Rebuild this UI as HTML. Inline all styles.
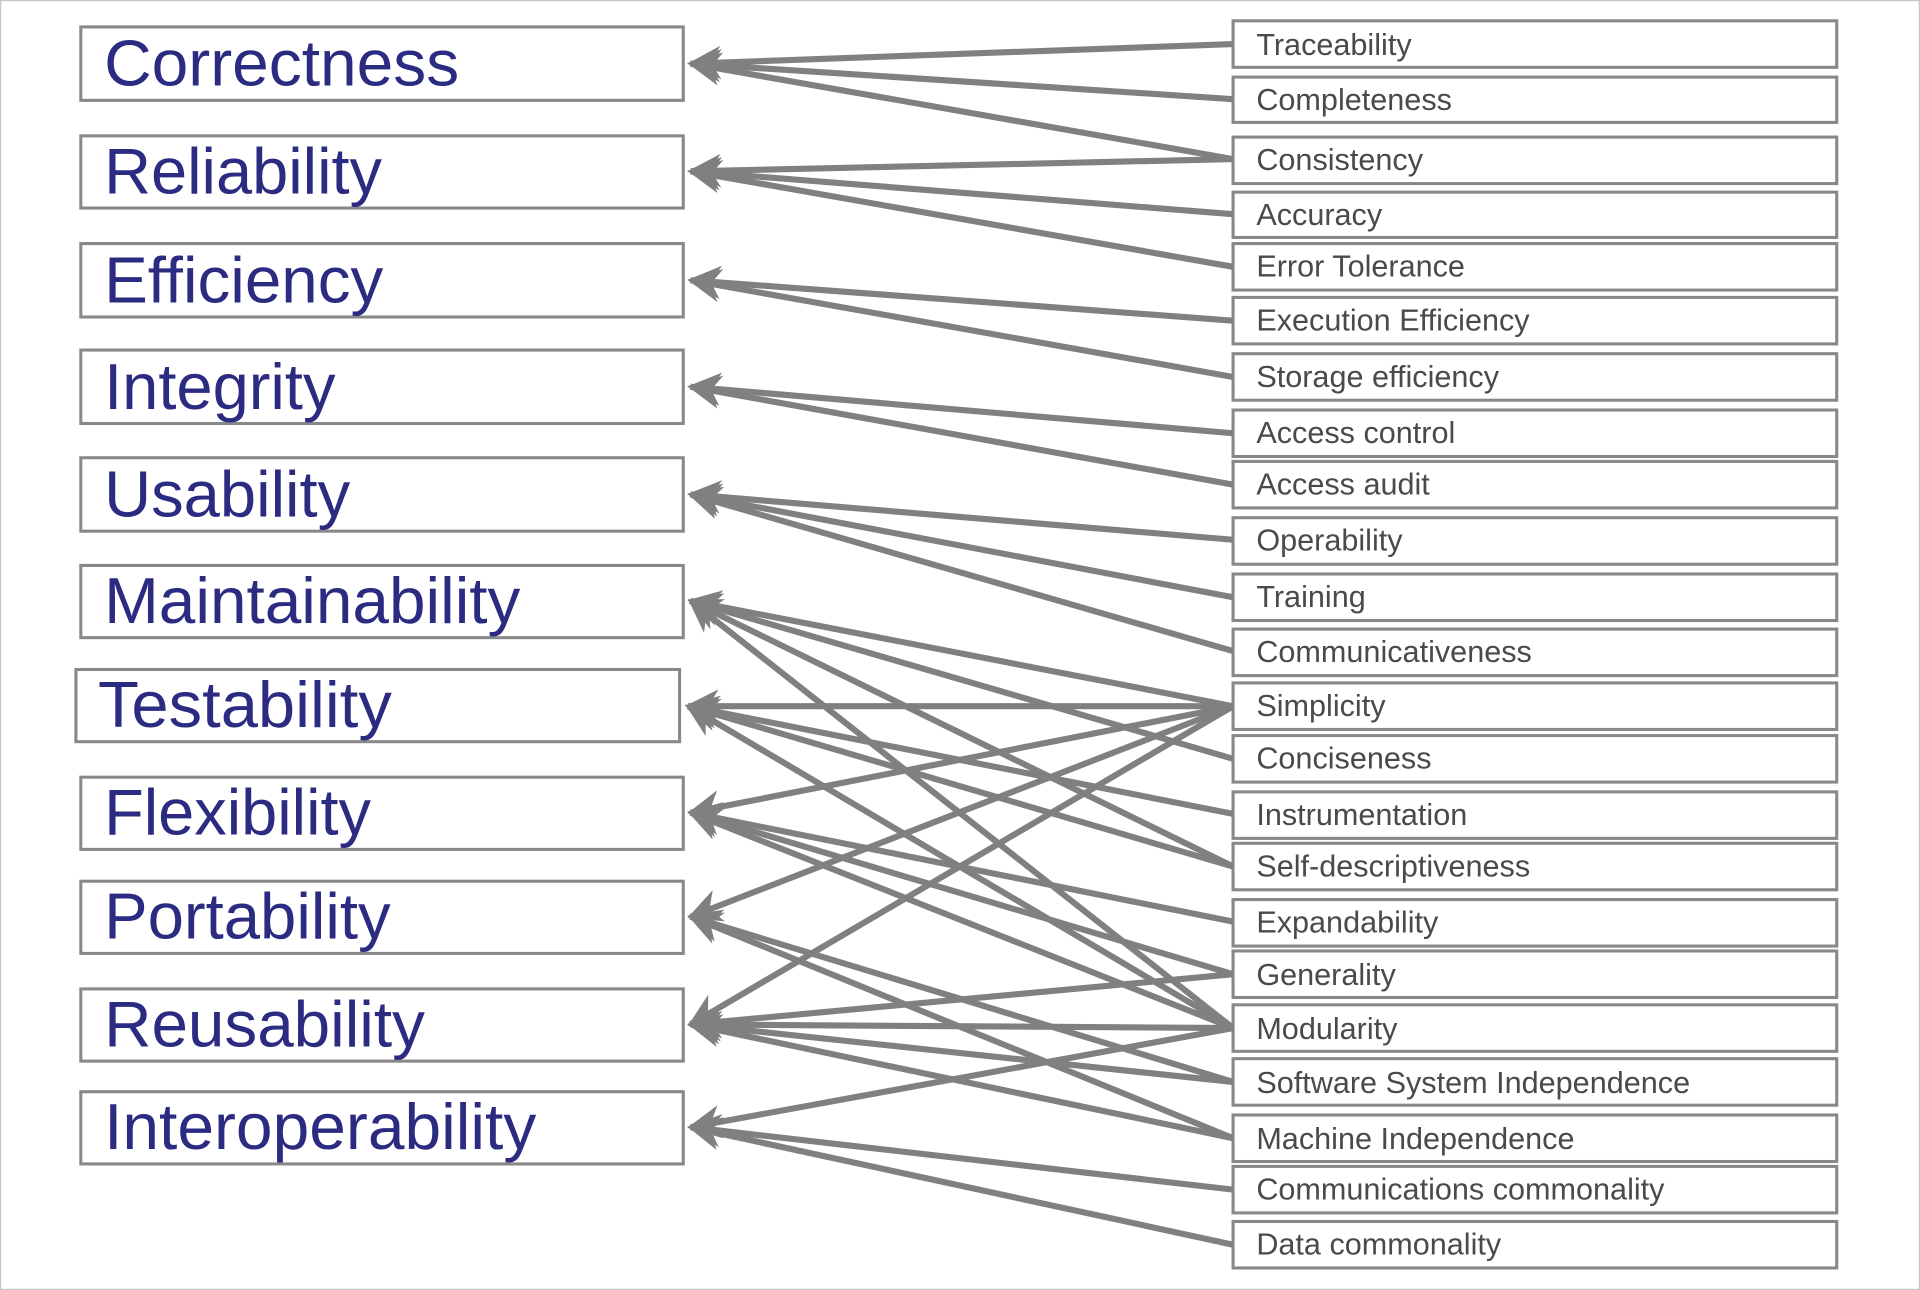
<!DOCTYPE html>
<html><head><meta charset="utf-8"><style>
html,body{margin:0;padding:0;background:#fff;}
svg{display:block;}
</style></head><body>
<svg width="1920" height="1290" viewBox="0 0 1568 1054" preserveAspectRatio="none" xmlns="http://www.w3.org/2000/svg">
<defs>
<marker id="a" viewBox="0 0 10 10" refX="9" refY="5" markerWidth="5.5" markerHeight="5.5" orient="auto" markerUnits="strokeWidth">
<path d="M10,5 L0,0 L3,5 L0,10 Z" fill="#808080"/>
</marker>
</defs>
<rect x="0.5" y="0.5" width="1567" height="1053" fill="#fff" stroke="#c8c8c8"/>
<g fill="#fff" stroke="#888" stroke-width="2.5">
<rect x="66" y="22" width="492" height="60"/>
<rect x="66" y="111" width="492" height="59"/>
<rect x="66" y="199" width="492" height="60"/>
<rect x="66" y="286" width="492" height="60"/>
<rect x="66" y="374" width="492" height="60"/>
<rect x="66" y="462" width="492" height="59"/>
<rect x="62" y="547" width="493" height="59"/>
<rect x="66" y="635" width="492" height="59"/>
<rect x="66" y="720" width="492" height="59"/>
<rect x="66" y="808" width="492" height="59"/>
<rect x="66" y="892" width="492" height="59"/>
</g>
<g fill="#2b2b82" font-family="Liberation Sans, sans-serif" font-size="53">
<text x="85" y="70" textLength="290" lengthAdjust="spacingAndGlyphs">Correctness</text>
<text x="85" y="158" textLength="227" lengthAdjust="spacingAndGlyphs">Reliability</text>
<text x="85" y="247" textLength="228" lengthAdjust="spacingAndGlyphs">Efficiency</text>
<text x="85" y="334" textLength="189" lengthAdjust="spacingAndGlyphs">Integrity</text>
<text x="85" y="422" textLength="201" lengthAdjust="spacingAndGlyphs">Usability</text>
<text x="85" y="509" textLength="340" lengthAdjust="spacingAndGlyphs">Maintainability</text>
<text x="80" y="594" textLength="240" lengthAdjust="spacingAndGlyphs">Testability</text>
<text x="85" y="682" textLength="218" lengthAdjust="spacingAndGlyphs">Flexibility</text>
<text x="85" y="767" textLength="234" lengthAdjust="spacingAndGlyphs">Portability</text>
<text x="85" y="855" textLength="262" lengthAdjust="spacingAndGlyphs">Reusability</text>
<text x="85" y="939" textLength="353" lengthAdjust="spacingAndGlyphs">Interoperability</text>
</g>
<g fill="#fff" stroke="#888" stroke-width="2.5">
<rect x="1007" y="17" width="493" height="38"/>
<rect x="1007" y="63" width="493" height="37"/>
<rect x="1007" y="112" width="493" height="38"/>
<rect x="1007" y="157" width="493" height="37"/>
<rect x="1007" y="199" width="493" height="38"/>
<rect x="1007" y="243" width="493" height="38"/>
<rect x="1007" y="289" width="493" height="38"/>
<rect x="1007" y="335" width="493" height="38"/>
<rect x="1007" y="377" width="493" height="38"/>
<rect x="1007" y="423" width="493" height="38"/>
<rect x="1007" y="469" width="493" height="38"/>
<rect x="1007" y="514" width="493" height="38"/>
<rect x="1007" y="558" width="493" height="38"/>
<rect x="1007" y="601" width="493" height="38"/>
<rect x="1007" y="647" width="493" height="38"/>
<rect x="1007" y="689" width="493" height="38"/>
<rect x="1007" y="735" width="493" height="38"/>
<rect x="1007" y="777" width="493" height="38"/>
<rect x="1007" y="821" width="493" height="38"/>
<rect x="1007" y="865" width="493" height="38"/>
<rect x="1007" y="911" width="493" height="38"/>
<rect x="1007" y="953" width="493" height="38"/>
<rect x="1007" y="998" width="493" height="38"/>
</g>
<g fill="#4a4a4a" font-family="Liberation Sans, sans-serif" font-size="25">
<text x="1026" y="45">Traceability</text>
<text x="1026" y="90">Completeness</text>
<text x="1026" y="139">Consistency</text>
<text x="1026" y="184">Accuracy</text>
<text x="1026" y="226">Error Tolerance</text>
<text x="1026" y="270">Execution Efficiency</text>
<text x="1026" y="316">Storage efficiency</text>
<text x="1026" y="362">Access control</text>
<text x="1026" y="404">Access audit</text>
<text x="1026" y="450">Operability</text>
<text x="1026" y="496">Training</text>
<text x="1026" y="541">Communicativeness</text>
<text x="1026" y="585">Simplicity</text>
<text x="1026" y="628">Conciseness</text>
<text x="1026" y="674">Instrumentation</text>
<text x="1026" y="716">Self-descriptiveness</text>
<text x="1026" y="762">Expandability</text>
<text x="1026" y="805">Generality</text>
<text x="1026" y="849">Modularity</text>
<text x="1026" y="893">Software System Independence</text>
<text x="1026" y="939">Machine Independence</text>
<text x="1026" y="980">Communications commonality</text>
<text x="1026" y="1025">Data commonality</text>
</g>
<g stroke="#808080" stroke-width="5" fill="none" marker-end="url(#a)">
<line x1="1007" y1="36" x2="564" y2="52"/>
<line x1="1007" y1="81" x2="564" y2="52"/>
<line x1="1007" y1="130" x2="564" y2="52"/>
<line x1="1007" y1="130" x2="564" y2="140"/>
<line x1="1007" y1="175" x2="564" y2="140"/>
<line x1="1007" y1="218" x2="564" y2="140"/>
<line x1="1007" y1="262" x2="564" y2="229"/>
<line x1="1007" y1="308" x2="564" y2="229"/>
<line x1="1007" y1="354" x2="564" y2="316"/>
<line x1="1007" y1="396" x2="564" y2="316"/>
<line x1="1007" y1="441" x2="564" y2="404"/>
<line x1="1007" y1="488" x2="564" y2="404"/>
<line x1="1007" y1="532" x2="564" y2="404"/>
<line x1="1007" y1="577" x2="564" y2="491"/>
<line x1="1007" y1="620" x2="564" y2="491"/>
<line x1="1007" y1="708" x2="564" y2="491"/>
<line x1="1007" y1="840" x2="564" y2="491"/>
<line x1="1007" y1="577" x2="562" y2="577"/>
<line x1="1007" y1="665" x2="562" y2="577"/>
<line x1="1007" y1="708" x2="562" y2="577"/>
<line x1="1007" y1="840" x2="562" y2="577"/>
<line x1="1007" y1="577" x2="564" y2="664"/>
<line x1="1007" y1="753" x2="564" y2="664"/>
<line x1="1007" y1="796" x2="564" y2="664"/>
<line x1="1007" y1="840" x2="564" y2="664"/>
<line x1="1007" y1="577" x2="564" y2="749"/>
<line x1="1007" y1="884" x2="564" y2="749"/>
<line x1="1007" y1="930" x2="564" y2="749"/>
<line x1="1007" y1="577" x2="564" y2="837"/>
<line x1="1007" y1="796" x2="564" y2="837"/>
<line x1="1007" y1="840" x2="564" y2="837"/>
<line x1="1007" y1="884" x2="564" y2="837"/>
<line x1="1007" y1="930" x2="564" y2="837"/>
<line x1="1007" y1="840" x2="564" y2="921"/>
<line x1="1007" y1="972" x2="564" y2="921"/>
<line x1="1007" y1="1017" x2="564" y2="921"/>
</g>
</svg>
</body></html>
